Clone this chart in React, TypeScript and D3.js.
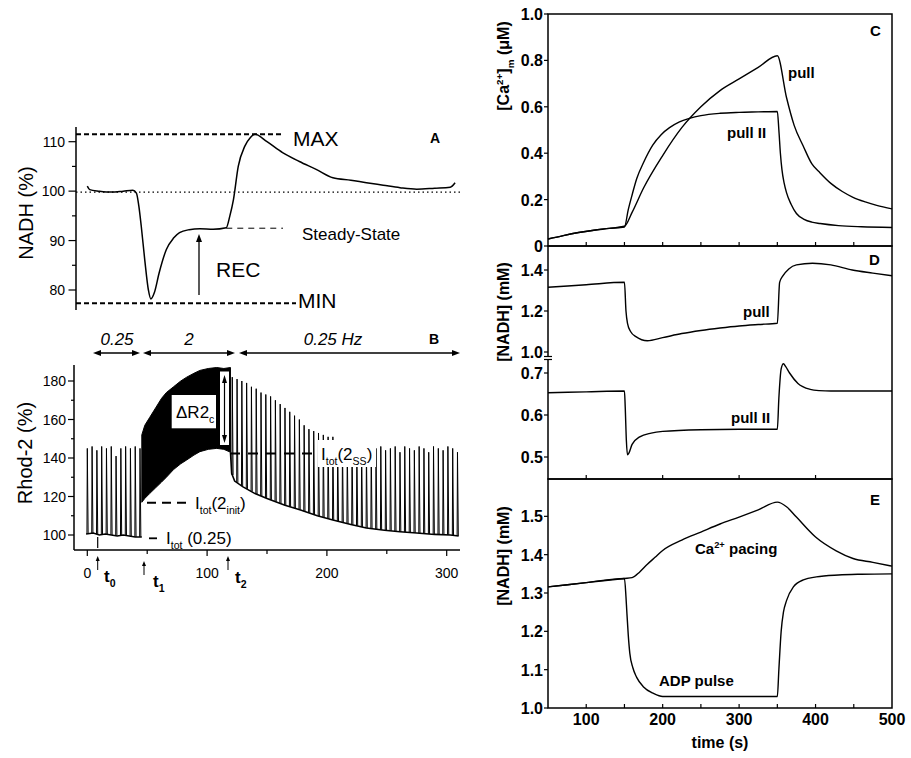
import React, { useEffect, useRef } from 'react';
import * as d3 from 'd3';

const FONT = "'Liberation Sans', Arial, Helvetica, sans-serif";

// ---- panel A: NADH (%) vs time (s)
const aTime = [0, 2, 10, 20, 30, 38, 41, 43, 45, 48, 51, 53, 56, 60, 66, 72, 77, 85, 94, 105, 116, 119, 122, 126, 131.5, 136, 140, 150, 163, 177, 191, 205, 220, 233, 247, 261, 275, 290, 303, 307];
const aNadh = [101, 100.3, 100, 99.8, 100, 100.2, 99.6, 97, 93, 86, 80, 78.2, 79.5, 83.5, 88.2, 90.5, 91.6, 92.2, 92.4, 92.3, 92.6, 95, 98.3, 105, 109.1, 110.8, 111.5, 110, 107.8, 106, 104.4, 102.7, 102.2, 101.7, 101.2, 100.7, 100.4, 100.6, 100.8, 101.7];

// ---- panel B: Rhod-2 (%) — 0.25 Hz / 2 Hz / 0.25 Hz pacing
const b1SpikeT = [0, 4, 8, 12, 16, 20, 24, 28, 32, 36, 40, 44];
const b1SpikePeak = [145, 146, 144, 146, 145, 146, 141, 145, 146, 145, 146, 145];
const b1BaseT = [-1, 5, 10, 15, 20, 25, 30, 35, 40, 45.5];
const b1BaseV = [100.5, 101, 100, 100.5, 100, 99.5, 100, 99.5, 99, 99];

const blockT = [45.5, 48, 52, 57, 62, 66, 72, 78, 83, 89, 94, 101, 108, 114, 119.5];
const blockTop = [152, 157, 161, 166, 171, 174, 177, 180, 182, 184, 185.5, 186.5, 187, 186.5, 187];
const blockBottom = [117, 119, 121.5, 124.5, 127.5, 130, 134, 137, 139, 141.5, 143.3, 144.5, 145, 144.5, 143];

const b3BaseT = [119.5, 120.5, 123, 130, 140, 150, 165, 178, 192, 205, 220, 233, 248, 261, 275, 290, 303, 310];
const b3BaseV = [143, 132, 128, 125, 121.5, 119, 115.5, 113, 110, 107.8, 105.5, 103.6, 102.5, 101.7, 101, 100.3, 100, 99.5];
const b3SpikeT = [121, 125, 129, 133, 137, 141, 145, 149, 153, 157, 161, 165, 169, 173, 177, 181, 185, 189, 193, 197, 201, 205, 209, 213, 217, 221, 225, 229, 233, 237, 241, 245, 249, 253, 257, 261, 265, 269, 273, 277, 281, 285, 289, 293, 297, 301, 305, 309];
const b3SpikePeak = [182, 181, 180, 179, 177, 176, 174, 173, 172, 170, 168, 166, 164, 162, 160, 157, 155, 154, 153, 152, 151, 151, 149, 148, 146, 146, 145, 146, 144, 146, 145, 146, 144, 145, 146, 143, 146, 145, 144, 146, 145, 143, 146, 145, 144, 146, 145, 143];

// ---- panel C: [Ca2+]m (uM)
const cPullT = [50, 70, 90, 110, 130, 150, 160, 175, 200, 225, 250, 275, 300, 325, 350, 362, 372, 384, 395, 406, 420, 435, 449, 465, 480, 500];
const cPullV = [0.03, 0.045, 0.058, 0.068, 0.076, 0.085, 0.145, 0.25, 0.39, 0.51, 0.60, 0.67, 0.72, 0.77, 0.82, 0.64, 0.52, 0.43, 0.355, 0.315, 0.27, 0.235, 0.21, 0.19, 0.175, 0.16];
const cPull2T = [50, 70, 90, 110, 130, 150, 155, 160, 166, 175, 187, 198, 209, 222, 235, 250, 275, 300, 325, 350, 352, 354, 356, 359, 362, 368, 375, 385, 395, 406, 430, 460, 500];
const cPull2V = [0.03, 0.045, 0.058, 0.068, 0.076, 0.082, 0.157, 0.22, 0.29, 0.36, 0.435, 0.48, 0.51, 0.535, 0.55, 0.562, 0.572, 0.576, 0.578, 0.58, 0.5, 0.4, 0.33, 0.27, 0.23, 0.18, 0.14, 0.115, 0.103, 0.097, 0.088, 0.083, 0.08];

// ---- panel D: [NADH] (mM), split axis
const dPullT = [50, 100, 150, 152, 154, 158, 165, 180, 200, 225, 250, 275, 300, 325, 350, 353, 357, 365, 375, 396, 420, 448, 475, 500];
const dPullV = [1.316, 1.328, 1.34, 1.2, 1.14, 1.10, 1.075, 1.055, 1.07, 1.09, 1.105, 1.117, 1.127, 1.134, 1.14, 1.34, 1.37, 1.405, 1.425, 1.433, 1.425, 1.40, 1.385, 1.372];
const dPull2T = [50, 100, 150, 151, 152.5, 154, 156, 160, 170, 185, 200, 250, 300, 350, 352, 355, 358, 361, 366, 377, 393, 405, 420, 450, 500];
const dPull2V = [0.653, 0.655, 0.657, 0.62, 0.54, 0.505, 0.51, 0.53, 0.548, 0.557, 0.561, 0.565, 0.566, 0.566, 0.64, 0.71, 0.722, 0.715, 0.70, 0.675, 0.661, 0.658, 0.657, 0.657, 0.657];

// ---- panel E: [NADH] (mM)
const eCaT = [50, 100, 150, 160, 170, 180, 190, 200, 225, 250, 275, 300, 325, 350, 362, 375, 400, 427, 449, 475, 500];
const eCaV = [1.316, 1.327, 1.338, 1.34, 1.355, 1.375, 1.393, 1.411, 1.438, 1.459, 1.48, 1.498, 1.517, 1.537, 1.525, 1.498, 1.446, 1.41, 1.39, 1.38, 1.37];
const eAdpT = [50, 100, 150, 152, 153, 155, 157, 161, 166, 175, 188, 200, 250, 300, 350, 352, 355, 358, 362, 371, 385, 401, 430, 460, 500];
const eAdpV = [1.316, 1.327, 1.338, 1.29, 1.255, 1.19, 1.143, 1.105, 1.08, 1.055, 1.038, 1.03, 1.03, 1.03, 1.03, 1.1, 1.2, 1.25, 1.28, 1.316, 1.335, 1.342, 1.347, 1.349, 1.35];

const aTicks = [80, 90, 100, 110];
const aMinor = [85, 95, 105];
const bTicks = [100, 120, 140, 160, 180];
const bMinor = [110, 130, 150, 170];
const bXTicks = [0, 100, 200, 300];
const bXMinor = [50, 150, 250];
const cTicks = [0, 0.2, 0.4, 0.6, 0.8, 1.0];
const dUpTicks = [1.0, 1.2, 1.4];
const dLowTicks = [0.5, 0.6, 0.7];
const eTicks = [1.0, 1.1, 1.2, 1.3, 1.4, 1.5];
const rXTicks = [100, 200, 300, 400, 500];
const rXMinor = [100, 150, 200, 250, 300, 350, 400, 450];
const dXMinor = [100, 200, 300, 400];

type Seg = { t: string; s?: 'sub' | 'sup' };

function rich(g: any, x: number, y: number, segs: Seg[], size: number, o: { weight?: string; anchor?: string; italic?: boolean; rotate?: boolean } = {}) {
  const txt = g.append('text').attr('x', x).attr('y', y)
    .attr('font-family', FONT).attr('font-size', size)
    .attr('font-weight', o.weight || 'normal')
    .attr('font-style', o.italic ? 'italic' : 'normal')
    .attr('text-anchor', o.anchor || 'start');
  if (o.rotate) txt.attr('transform', `rotate(-90,${x},${y})`);
  let shift = 0;
  segs.forEach(sg => {
    const target = sg.s === 'sub' ? size * 0.32 : sg.s === 'sup' ? -size * 0.4 : 0;
    txt.append('tspan').attr('dy', target - shift).attr('font-size', sg.s ? size * 0.62 : size).text(sg.t);
    shift = target;
  });
  return txt;
}

export default function App() {
  const ref = useRef<SVGSVGElement>(null);
  useEffect(() => {
    const svg = d3.select(ref.current);
    svg.selectAll('*').remove();
    const txt = (x: number, y: number, s: string, size: number, weight = 'normal', anchor = 'start') =>
      svg.append('text').attr('x', x).attr('y', y).attr('font-family', FONT).attr('font-size', size)
        .attr('font-weight', weight).attr('text-anchor', anchor).text(s);
    const ln = (x1: number, y1: number, x2: number, y2: number, w = 1.2, dash?: string) => {
      const l = svg.append('line').attr('x1', x1).attr('y1', y1).attr('x2', x2).attr('y2', y2)
        .attr('stroke', '#000').attr('stroke-width', w);
      if (dash) l.attr('stroke-dasharray', dash);
      return l;
    };
    const head = (x: number, y: number, dir: 'l' | 'r' | 'u' | 'd', len = 7, hw = 3) => {
      const pts = dir === 'l' ? [[x, y], [x + len, y - hw], [x + len, y + hw]]
        : dir === 'r' ? [[x, y], [x - len, y - hw], [x - len, y + hw]]
        : dir === 'u' ? [[x, y], [x - hw, y + len], [x + hw, y + len]]
        : [[x, y], [x - hw, y - len], [x + hw, y - len]];
      svg.append('polygon').attr('points', pts.map(p => p.join(',')).join(' ')).attr('fill', '#000');
    };

    // ===== left panels (A, B) share time scale
    const xL = d3.scaleLinear().domain([0, 300]).range([87.3, 446.7]);
    const yA = d3.scaleLinear().domain([80, 110]).range([290, 141.7]);
    const yB = d3.scaleLinear().domain([100, 180]).range([535, 381]);

    // --- panel A
    ln(76, 127, 76, 310, 1.5);
    aTicks.forEach(v => { ln(68.5, yA(v), 76, yA(v), 1.2); txt(65, yA(v) + 5, String(v), 14, 'normal', 'end'); });
    aMinor.forEach(v => ln(72, yA(v), 76, yA(v), 1.2));
    rich(svg, 33, 213, [{ t: 'NADH (%)' }], 20, { anchor: 'middle', rotate: true });

    ln(76, yA(99.8), 460, yA(99.8), 1.3, '1.5,3');
    ln(76, yA(111.5), 283, yA(111.5), 2, '5,3');
    ln(76, yA(77.3), 296, yA(77.3), 2, '5,3');
    ln(xL(116), yA(92.5), 283, yA(92.5), 1, '6,5');
    svg.append('path').datum(aTime.map((t, i) => [t, aNadh[i]] as [number, number]))
      .attr('fill', 'none').attr('stroke', '#000').attr('stroke-width', 1.5)
      .attr('d', d3.line().x(d => xL(d[0])).y(d => yA(d[1])).curve(d3.curveMonotoneX));
    ln(199, 295, 199, 240, 1.3);
    head(199, 234, 'u', 8, 3);
    txt(293, 146, 'MAX', 21);
    txt(298, 308, 'MIN', 21);
    txt(302, 240, 'Steady-State', 17);
    txt(216, 277, 'REC', 21);
    txt(430, 143, 'A', 14, 'bold');

    // --- panel B
    ln(74, 365, 74, 550, 1.5);
    ln(74, 550, 460, 550, 1.5);
    bTicks.forEach(v => { ln(68, yB(v), 74, yB(v), 1.2); txt(66, yB(v) + 5, String(v), 14, 'normal', 'end'); });
    bMinor.forEach(v => ln(71, yB(v), 74, yB(v), 1.2));
    bXTicks.forEach(v => { ln(xL(v), 550, xL(v), 556, 1.2); txt(xL(v), 578, String(v), 14, 'normal', 'middle'); });
    bXMinor.forEach(v => ln(xL(v), 550, xL(v), 554, 1.2));
    rich(svg, 32, 453, [{ t: 'Rhod-2 (%)' }], 20, { anchor: 'middle', rotate: true });

    const lineB = d3.line<[number, number]>().x(d => xL(d[0])).y(d => yB(d[1]));
    const base1 = d3.scaleLinear().domain(b1BaseT).range(b1BaseV);
    const base3 = d3.scaleLinear().domain(b3BaseT).range(b3BaseV);
    svg.append('path').datum(b1BaseT.map((t, i) => [t, b1BaseV[i]] as [number, number]))
      .attr('fill', 'none').attr('stroke', '#000').attr('stroke-width', 1.4).attr('d', lineB);
    svg.append('path').datum(b3BaseT.map((t, i) => [t, b3BaseV[i]] as [number, number]))
      .attr('fill', 'none').attr('stroke', '#000').attr('stroke-width', 1.6).attr('d', lineB);
    const spike = (t: number, peak: number, base: number) =>
      lineB([[t - 0.3, base], [t, peak], [t + 0.7, base]]);
    b1SpikeT.forEach((t, i) => svg.append('path').attr('d', spike(t, b1SpikePeak[i], base1(t)))
      .attr('fill', 'none').attr('stroke', '#000').attr('stroke-width', 1));
    b3SpikeT.forEach((t, i) => svg.append('path').attr('d', spike(t, b3SpikePeak[i], base3(t)))
      .attr('fill', 'none').attr('stroke', '#000').attr('stroke-width', 1));
    svg.append('path').datum(blockT.map((t, i) => [t, blockBottom[i], blockTop[i]]))
      .attr('fill', '#000').attr('stroke', '#000').attr('stroke-width', 1)
      .attr('d', d3.area<number[]>().x(d => xL(d[0])).y0(d => yB(d[1])).y1(d => yB(d[2])));

    // DeltaR2c box and arrow strip
    svg.append('rect').attr('x', 171.7).attr('y', 395).attr('width', 44.3).attr('height', 33.3).attr('fill', '#fff');
    rich(svg, 176, 418, [{ t: '\u0394R2' }, { t: 'c', s: 'sub' }], 17);
    svg.append('rect').attr('x', 220).attr('y', 371.5).attr('width', 9).attr('height', 73.5).attr('fill', '#fff');
    ln(224.5, 382, 224.5, 436, 1.2);
    head(224.5, 375, 'u', 8, 2.5);
    head(224.5, 443, 'd', 8, 2.5);

    // I_tot annotations
    svg.append('rect').attr('x', 318).attr('y', 440).attr('width', 58).attr('height', 27).attr('fill', '#fff');
    ln(230, yB(142.4), 312, yB(142.4), 2, '10,8');
    rich(svg, 321, 460, [{ t: 'I' }, { t: 'tot', s: 'sub' }, { t: '(2' }, { t: 'SS', s: 'sub' }, { t: ')' }], 17);
    ln(147, yB(116.8), 191, yB(116.8), 2, '9,6');
    rich(svg, 195, 509, [{ t: 'I' }, { t: 'tot', s: 'sub' }, { t: '(2' }, { t: 'init', s: 'sub' }, { t: ')' }], 17);
    ln(149, 538.3, 157, 538.3, 1.8);
    rich(svg, 166, 544, [{ t: 'I' }, { t: 'tot', s: 'sub' }, { t: ' (0.25)' }], 17);

    // pacing frequency bar
    const dArrow = (x1: number, x2: number, y: number) => {
      ln(x1 + 5, y, x2 - 5, y, 1.4);
      head(x1, y, 'l', 8, 3);
      head(x2, y, 'r', 8, 3);
    };
    dArrow(93, 140, 353);
    dArrow(143, 235, 353);
    dArrow(239, 460, 353);
    rich(svg, 117, 345, [{ t: '0.25' }], 17, { italic: true, anchor: 'middle' });
    rich(svg, 189, 345, [{ t: '2' }], 17, { italic: true, anchor: 'middle' });
    rich(svg, 333, 345, [{ t: '0.25 Hz' }], 17, { italic: true, anchor: 'middle' });
    txt(429, 344, 'B', 14, 'bold');

    // t0, t1, t2 markers
    ln(97.7, 537, 97.7, 548, 1.2);
    [[97.7, 556, 104, 582, '0'], [144, 561, 153, 587, '1'], [228, 556, 235, 583, '2']].forEach(([ax, ay, tx, ty, s]) => {
      ln(ax as number, (ay as number) + 4, ax as number, (ay as number) + 14, 1);
      head(ax as number, ay as number, 'u', 5, 2);
      rich(svg, tx as number, ty as number, [{ t: 't' }, { t: s as string, s: 'sub' }], 17, { weight: 'bold' });
    });

    // ===== right panels (C, D, E)
    const xR = d3.scaleLinear().domain([50, 500]).range([548, 892]);
    const yC = d3.scaleLinear().domain([0, 1]).range([246, 14]);
    const yDu = d3.scaleLinear().domain([1.0, 1.4]).range([352, 270]);
    const yDl = d3.scaleLinear().domain([0.5, 0.7]).range([457, 373]);
    const yE = d3.scaleLinear().domain([1.0, 1.6]).range([708, 478]);

    const curve = (T: number[], V: number[], y: d3.ScaleLinear<number, number>) =>
      svg.append('path').datum(T.map((t, i) => [t, V[i]] as [number, number]))
        .attr('fill', 'none').attr('stroke', '#000').attr('stroke-width', 1.4)
        .attr('d', d3.line<[number, number]>().x(d => xR(d[0])).y(d => y(d[1])).curve(d3.curveMonotoneX));

    curve(cPullT, cPullV, yC);
    curve(cPull2T, cPull2V, yC);
    curve(dPullT, dPullV, yDu);
    curve(dPull2T, dPull2V, yDl);
    curve(eCaT, eCaV, yE);
    curve(eAdpT, eAdpV, yE);

    [[14, 246], [246, 479], [479, 708]].forEach(([y0, y1]) =>
      svg.append('rect').attr('x', 548).attr('y', y0).attr('width', 344).attr('height', y1 - y0)
        .attr('fill', 'none').attr('stroke', '#000').attr('stroke-width', 1.5));

    const fmt = (v: number) => (v === 0 ? '0' : v.toFixed(1));
    cTicks.forEach(v => { ln(544, yC(v), 548, yC(v), 1.2); txt(543, yC(v) + 6, fmt(v), 16, 'bold', 'end'); });
    dUpTicks.forEach(v => { ln(544, yDu(v), 548, yDu(v), 1.2); txt(543, yDu(v) + 6, fmt(v), 16, 'bold', 'end'); });
    dLowTicks.forEach(v => { ln(544, yDl(v), 548, yDl(v), 1.2); txt(543, yDl(v) + 6, fmt(v), 16, 'bold', 'end'); });
    eTicks.forEach(v => { ln(544, yE(v), 548, yE(v), 1.2); txt(543, yE(v) + 6, fmt(v), 16, 'bold', 'end'); });
    rXMinor.forEach(v => { ln(xR(v), 246, xR(v), 242, 1.2); ln(xR(v), 708, xR(v), 704, 1.2); });
    dXMinor.forEach(v => ln(xR(v), 479, xR(v), 475, 1.2));
    rXTicks.forEach(v => txt(xR(v), 725, String(v), 16, 'bold', 'middle'));
    txt(720, 748, 'time (s)', 16, 'bold', 'middle');

    // axis break on D
    svg.append('rect').attr('x', 546).attr('y', 356.5).attr('width', 4).attr('height', 3).attr('fill', '#fff');
    ln(544, 356.5, 552, 356.5, 1.2);
    ln(544, 359.5, 552, 359.5, 1.2);

    rich(svg, 509, 66, [{ t: '[Ca' }, { t: '2+', s: 'sup' }, { t: ']' }, { t: 'm', s: 'sub' }, { t: ' (\u03bcM)' }], 16, { weight: 'bold', anchor: 'middle', rotate: true });
    rich(svg, 509, 312, [{ t: '[NADH] (mM)' }], 16, { weight: 'bold', anchor: 'middle', rotate: true });
    rich(svg, 509, 556, [{ t: '[NADH] (mM)' }], 16, { weight: 'bold', anchor: 'middle', rotate: true });

    txt(870, 36, 'C', 15, 'bold');
    txt(869, 265, 'D', 15, 'bold');
    txt(870, 505, 'E', 15, 'bold');
    txt(788, 78, 'pull', 15, 'bold');
    txt(727, 138, 'pull II', 15, 'bold');
    txt(743, 317, 'pull', 15, 'bold');
    txt(731, 423, 'pull II', 15, 'bold');
    rich(svg, 695, 554, [{ t: 'Ca' }, { t: '2+', s: 'sup' }, { t: ' pacing' }], 15, { weight: 'bold' });
    txt(659, 686, 'ADP pulse', 15, 'bold');
  }, []);

  return (
    <svg ref={ref} width={911} height={758} style={{ position: 'absolute', left: 0, top: 0, background: '#fff' }} />
  );
}
